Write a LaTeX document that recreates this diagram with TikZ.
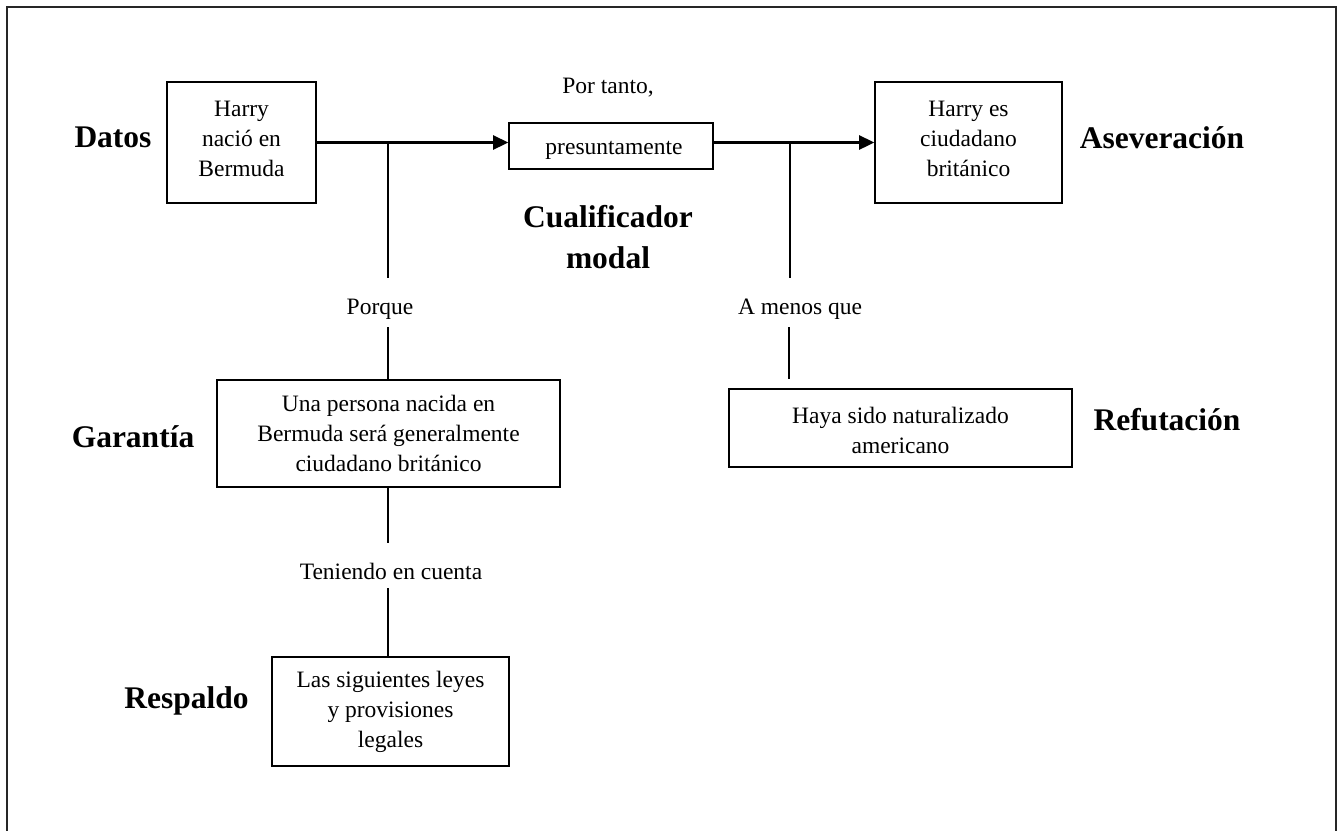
\documentclass[tikz,border=0pt]{standalone}
\usepackage{fontspec}
\setmainfont{Liberation Serif}
\usetikzlibrary{arrows.meta}
\newcommand\bodyfont{\fontsize{23.5}{30}\selectfont}
\newcommand\labfont{\fontsize{31.5}{41}\selectfont\bfseries}
\newcommand\lowdepth{\rule[-8pt]{0pt}{8pt}}
\begin{document}
\begin{tikzpicture}[x=1pt,y=-1pt,
  every node/.style={inner sep=0pt},
  box/.style={draw, line width=1.6pt, align=center, font=\bodyfont},
  txt/.style={font=\bodyfont},
  lab/.style={font=\labfont},
  ln/.style={line width=1.6pt},
  arr/.style={line width=2.6pt, -{Triangle[length=15pt,width=14pt]}},
  frame/.style={line width=2pt, draw=black!85}]
\useasboundingbox (0,0) rectangle (1338,830);
\draw[frame] (7,834) -- (7,7) -- (1336,7) -- (1336,834);

% boxes
\node[box, minimum width=149pt, minimum height=121pt] (datos) at (241.5,142.5) {Harry\\nació en\\Bermuda\lowdepth};
\node[draw, line width=1.6pt, font=\bodyfont, minimum width=204pt, minimum height=46pt, text height=22pt, text depth=5pt] (qual) at (611,146) {\hspace*{6pt}presuntamente};
\node[box, minimum width=187pt, minimum height=121pt] (asev) at (968.5,142.5) {Harry es\\ciudadano\\británico\lowdepth};
\node[box, minimum width=343pt, minimum height=107pt] (gar) at (388.5,433.5) {Una persona nacida en\\Bermuda será generalmente\\ciudadano británico};
\node[box, minimum width=237pt, minimum height=109pt] (resp) at (390.5,711.5) {Las siguientes leyes\\y provisiones\\legales};
\node[box, minimum width=343pt, minimum height=78pt] (ref) at (900.5,428) {\rule{0pt}{22pt}Haya sido naturalizado\\americano};

% bold labels
\node[lab] (ldatos) at (113,137) {Datos};
\node[lab] (lasev) at (1162,138) {Aseveración};
\node[lab, align=center] (lcual) at (608,237) {Cualificador\\modal};
\node[lab] (lgar) at (133,437) {Garantía};
\node[lab] (lref) at (1167,420) {Refutación};
\node[lab] (lresp) at (186.5,701) {Respaldo};

% connector words
\node[txt] (portanto) at (608,88) {Por tanto,};
\node[txt] (porque) at (380,309) {Porque};
\node[txt] (tenien) at (391,571) {Teniendo en cuenta};
\node[txt] (amenos) at (800,309) {A menos que};

% connectors
\draw[arr] (datos.east) -- (datos.east -| qual.west);
\draw[arr] (qual.east |- datos.east) -- (datos.east -| asev.west);

\coordinate (j1) at (388,142.5);
\coordinate (p1) at (388,278);
\draw[ln] (j1) -- (p1);
\coordinate (p2) at (388,327);
\draw[ln] (p2) -- (p2 |- gar.north);
\coordinate (t1) at (388,543);
\draw[ln] (t1 |- gar.south) -- (t1);
\coordinate (t2) at (388,588);
\draw[ln] (t2) -- (t2 |- resp.north);

\coordinate (j2) at (790,142.5);
\coordinate (r1) at (790,278);
\draw[ln] (j2) -- (r1);
\coordinate (r2) at (789,327);
\coordinate (r3) at (789,379);
\draw[ln] (r2) -- (r3);
\end{tikzpicture}
\end{document}
